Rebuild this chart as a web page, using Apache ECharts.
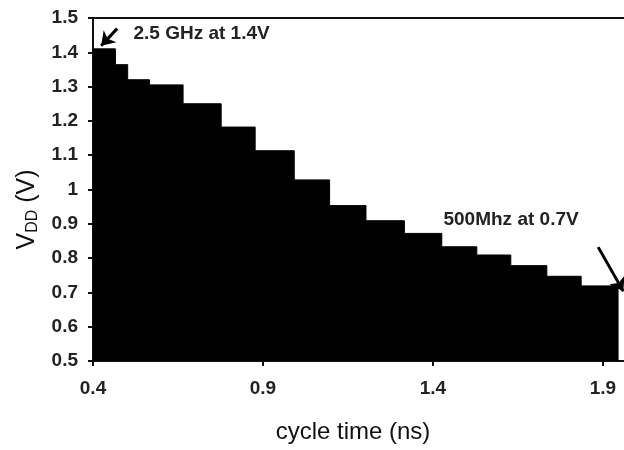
<!DOCTYPE html>
<html>
<head>
<meta charset="utf-8">
<script src="https://cdn.jsdelivr.net/npm/echarts@6/dist/echarts.min.js"></script>
<style>
  html, body { margin: 0; padding: 0; background: #fff; }
  #chart { width: 624px; height: 450px; }
</style>
</head>
<body>
<div id="chart"></div>
<script>
// Supply voltage needed at each cycle time: each step starts at cycleTime[i]
// and holds vdd[i] until the next breakpoint.
const cycleTime = [0.4, 0.466, 0.502, 0.566, 0.665, 0.777, 0.877, 0.992, 1.096,
                   1.203, 1.316, 1.426, 1.529, 1.629, 1.735, 1.836, 1.946];
const vdd = [1.41, 1.364, 1.32, 1.305, 1.25, 1.182, 1.113, 1.028, 0.953,
             0.909, 0.872, 0.833, 0.809, 0.778, 0.747, 0.719, 0.719];

// x axis is cut at 1.962 ns, just short of 2.0
const xTicks = { min: 0.4, max: 1.962, interval: 0.5 };
const yTicks = { min: 0.5, max: 1.5, interval: 0.1 };

// Annotations: text anchor and arrow tail/head, in data units
const noteFast = { text: '2.5 GHz at 1.4V', at: [0.519, 1.454], tail: [0.471, 1.469], head: [0.424, 1.419] };
const noteSlow = { text: '500Mhz at 0.7V', at: [1.431, 0.911], tail: [1.886, 0.832], head: [1.96, 0.703] };

const FONT = 'Liberation Sans, Arial, sans-serif';
const points = cycleTime.map((t, i) => [t, vdd[i]]);

const chart = echarts.init(document.getElementById('chart'), null, { renderer: 'canvas' });
chart.setOption({
  animation: false,
  backgroundColor: '#fff',
  grid: { left: 93, right: 0, top: 18, bottom: 89, containLabel: false },
  xAxis: [{
    type: 'value',
    min: xTicks.min, max: xTicks.max, interval: xTicks.interval,
    name: 'cycle time (ns)',
    nameLocation: 'middle',
    nameGap: 59,
    nameTextStyle: { fontFamily: FONT, fontSize: 24, color: '#111', padding: [0, 11, 0, 0] },
    axisLine: { show: true, lineStyle: { color: '#111', width: 2 } },
    axisTick: { show: true, length: 5, lineStyle: { color: '#111', width: 2 } },
    axisLabel: { fontFamily: FONT, fontSize: 19, fontWeight: 'bold', color: '#222', margin: 18, showMaxLabel: false },
    splitLine: { show: false }
  }, {
    type: 'value', position: 'top',
    min: xTicks.min, max: xTicks.max,
    axisLine: { show: true, lineStyle: { color: '#111', width: 2 } },
    axisTick: { show: false }, axisLabel: { show: false }, splitLine: { show: false }
  }],
  yAxis: {
    type: 'value',
    min: yTicks.min, max: yTicks.max, interval: yTicks.interval,
    name: '{v|V}{sub|DD}{v| (V)}',
    nameLocation: 'middle',
    nameRotate: 90,
    nameGap: 50,
    nameTextStyle: {
      padding: [0, 40, 0, 0],
      rich: {
        v: { fontFamily: FONT, fontSize: 25, color: '#111' },
        sub: { fontFamily: FONT, fontSize: 16, color: '#111', verticalAlign: 'bottom', padding: [11, 0, 0, 0] }
      }
    },
    axisLine: { show: true, lineStyle: { color: '#111', width: 2 } },
    axisTick: { show: true, length: 5, lineStyle: { color: '#111', width: 2 } },
    axisLabel: { fontFamily: FONT, fontSize: 19, fontWeight: 'bold', color: '#222', margin: 15 },
    splitLine: { show: false }
  },
  series: [{
    type: 'line',
    step: 'end',
    data: points,
    symbol: 'none',
    clip: false,
    lineStyle: { color: '#000', width: 1 },
    areaStyle: { color: '#000', opacity: 1, origin: 'start' },
    markLine: {
      silent: true,
      symbol: ['none', 'arrow'],
      symbolSize: 13,
      label: { show: false },
      lineStyle: { color: '#000', width: 3, type: 'solid' },
      data: [
        [{ coord: noteFast.tail }, { coord: noteFast.head }],
        [{ coord: noteSlow.tail }, { coord: noteSlow.head }]
      ]
    },
    markPoint: {
      silent: true,
      symbol: 'circle',
      symbolSize: 0,
      label: {
        show: true, position: 'right', distance: 0,
        fontFamily: FONT, fontSize: 19, fontWeight: 'bold', color: '#222',
        formatter: p => p.name
      },
      data: [
        { name: noteFast.text, coord: noteFast.at },
        { name: noteSlow.text, coord: noteSlow.at }
      ]
    }
  }]
});
</script>
</body>
</html>
